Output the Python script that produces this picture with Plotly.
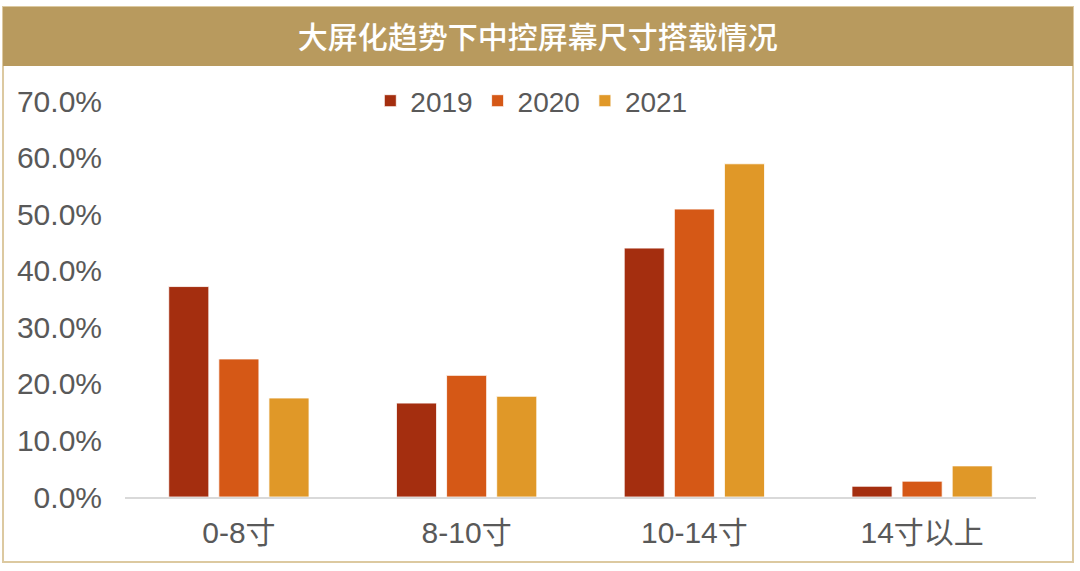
import plotly.graph_objects as go

# data
categories = ['0-8寸', '8-10寸', '10-14寸', '14寸以上']
share_2019 = [0.372, 0.166, 0.440, 0.019]
share_2020 = [0.244, 0.215, 0.509, 0.028]
share_2021 = [0.175, 0.178, 0.589, 0.055]
y_ticks = [0, 0.1, 0.2, 0.3, 0.4, 0.5, 0.6, 0.7]

colors = {'2019': '#A42E0F', '2020': '#D55816', '2021': '#E09828'}
latin = 'Liberation Sans, Arial, Noto Sans CJK SC'
cjk = 'Noto Sans CJK SC, Microsoft YaHei, sans-serif'

fig = go.Figure()
for name, vals in [('2019', share_2019), ('2020', share_2020), ('2021', share_2021)]:
    fig.add_trace(go.Bar(x=categories, y=vals, name=name,
                         marker_color=colors[name],
                         marker_line=dict(color='white', width=0.8)))

fig.update_layout(
    width=1080, height=571,
    margin=dict(l=125, r=44, t=101, b=74),
    paper_bgcolor='white', plot_bgcolor='white',
    barmode='group', bargap=0.34, bargroupgap=0.2,
    showlegend=True,
    legend=dict(orientation='h', x=0.446, xanchor='center', y=1.0, yanchor='middle',
                font=dict(family=latin, size=28, color='#595959'),
                itemwidth=30, bgcolor='rgba(0,0,0,0)'),
    title=dict(text='大屏化趋势下中控屏幕尺寸搭载情况',
               x=0.498, xref='container', xanchor='center',
               y=1 - 37 / 571, yref='container', yanchor='middle',
               font=dict(family=cjk, size=30, color='white', weight=500)),
)

fig.update_yaxes(range=[0, 0.7], tickvals=y_ticks, tickformat='.1%',
                 showgrid=False, zeroline=False, showline=False,
                 tickfont=dict(family=latin, size=30, color='#595959'),
                 ticklabelstandoff=22)
fig.update_xaxes(showline=True, linecolor='#D9D9D9', linewidth=2,
                 showgrid=False, ticks='',
                 tickfont=dict(family=latin, size=30, color='#595959'),
                 ticklabelstandoff=8)

# outer frame and title band
fig.add_shape(type='rect', xref='paper', yref='paper',
              x0=-0.1339, x1=1.0406, y0=-0.1641, y1=1.2374,
              line=dict(color='#DCC9A0', width=2), fillcolor='rgba(0,0,0,0)',
              layer='below')
fig.add_shape(type='rect', xref='paper', yref='paper',
              x0=-0.1339, x1=1.0406, y0=1.0884, y1=1.2374,
              line=dict(color='#B89A5E', width=0), fillcolor='#B89A5E',
              layer='below')

# page body has an 8px default margin; drop it so the figure sits at 0,0
fig.write_html('out.html', config={'displayModeBar': False},
               post_script="document.body.style.margin='0';")
